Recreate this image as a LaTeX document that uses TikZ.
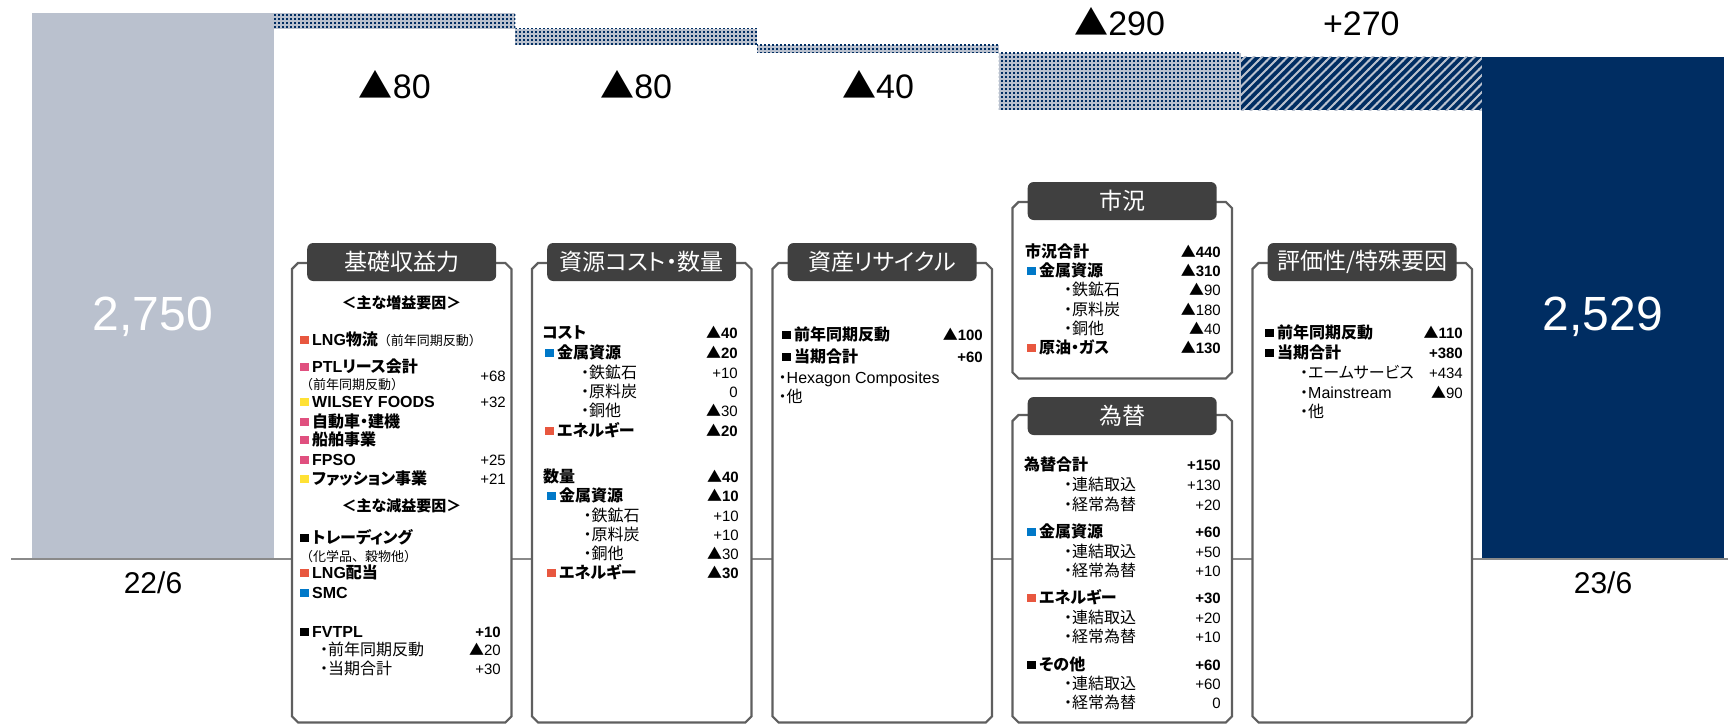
\documentclass[tikz,border=0pt]{standalone}
\usepackage{fontspec}
\setmainfont{Noto Sans CJK JP}[RawFeature=+palt]
\newfontfamily\jpfw{Noto Sans CJK JP}
\newfontfamily\lat{Liberation Sans}
\usepackage{tikz}
\usetikzlibrary{patterns}
\usepackage{xcolor}

\definecolor{navy}{HTML}{002D62}
\definecolor{barg}{HTML}{BAC1CE}
\definecolor{tabg}{HTML}{404040}
\definecolor{frameg}{HTML}{5F5F5F}
\definecolor{axisg}{HTML}{8A8A8A}
\definecolor{mred}{HTML}{E8573F}
\definecolor{mpink}{HTML}{E0507F}
\definecolor{myel}{HTML}{FFE135}
\definecolor{mblue}{HTML}{0078C8}

\pgfdeclarepatternformonly{navydots}{\pgfqpoint{0pt}{0pt}}{\pgfqpoint{4.3pt}{4.3pt}}{\pgfqpoint{4.3pt}{4.3pt}}{%
  \pgfpathrectangle{\pgfqpoint{0pt}{0pt}}{\pgfqpoint{2.2pt}{2.2pt}}\pgfusepath{fill}}
\pgfdeclarepatternformonly{graystripes}{\pgfqpoint{-1pt}{-1pt}}{\pgfqpoint{9.5pt}{9.5pt}}{\pgfqpoint{8.5pt}{8.5pt}}{%
  \pgfsetlinewidth{1.9pt}\pgfpathmoveto{\pgfqpoint{-0.5pt}{-0.5pt}}\pgfpathlineto{\pgfqpoint{9pt}{9pt}}\pgfusepath{stroke}}

% coloured marker in front of an item
\newcommand\sq[1]{\textcolor{#1}{\rule[1.5pt]{8.5pt}{8.5pt}}\hspace{3.5pt}}
% triangle for negative figures
\newcommand\tri{{\rmfamily ▲}}
% small note in brackets
\newcommand\note[1]{{\jpfw\mdseries\fontsize{13}{15}\selectfont #1}}
% outline of a panel with cut corners
\newcommand\chamfer[1]{\draw[boxframe] ([xshift=6pt]#1.north west) -- ([xshift=-6pt]#1.north east) -- ([yshift=-6pt]#1.north east) -- ([yshift=6pt]#1.south east) -- ([xshift=-6pt]#1.south east) -- ([xshift=6pt]#1.south west) -- ([yshift=6pt]#1.south west) -- ([yshift=-6pt]#1.north west) -- cycle;}

\begin{document}
\begin{tikzpicture}[x=1pt,y=-1pt]
    \tikzstyle{bignum}=[font=\lat\fontsize{48}{52}\selectfont,text=white,anchor=base]
    \tikzstyle{delta}=[font=\lat\fontsize{34}{40}\selectfont,anchor=base]
    \tikzstyle{period}=[font=\lat\fontsize{30}{36}\selectfont,anchor=base]
    \tikzstyle{panel}=[fill=white,minimum width=219pt,anchor=north west,inner sep=0pt]
    \tikzstyle{titletab}=[fill=tabg,rounded corners=6pt,minimum width=189pt,minimum height=38pt,inner sep=0pt,text=white,font=\fontsize{23}{26}\selectfont]
    \tikzstyle{lbl}=[anchor=base west,inner sep=0pt,font=\fontsize{16}{18}\selectfont]
    \tikzstyle{val}=[anchor=base east,inner sep=0pt,font=\lat\fontsize{15}{18}\selectfont]
    \tikzstyle{boxframe}=[draw=frameg,line width=2.2pt]
    \tikzstyle{dotbar}=[fill=barg,postaction={pattern=navydots,pattern color=navy}]

    \useasboundingbox (0,0) rectangle (1734,724);

    % bars
    \fill[barg] (32,13) rectangle (273.7,558);
    \path[dotbar] (273.7,13) rectangle (515.4,28.9);
    \path[dotbar] (515.4,28.9) rectangle (757.1,44.7);
    \path[dotbar] (757.1,44.7) rectangle (998.8,52.6);
    \path[dotbar] (998.8,52.6) rectangle (1240.5,110.1);
    \path[fill=navy,postaction={pattern=graystripes,pattern color=barg}] (1240.5,56.7) rectangle (1482.2,110.1);
    \fill[navy] (1482.2,56.8) rectangle (1723.9,558);

    \node[bignum] (v0) at (153,330) {2,750};
    \node[bignum] (v1) at (1603,330) {2,529};
    \node[delta] (d1) at (394.8,98.5) {\tri80};
    \node[delta] (d2) at (636.2,98.5) {\tri80};
    \node[delta] (d3) at (878,98.5) {\tri40};
    \node[delta] (d4) at (1119.6,35) {\tri290};
    \node[delta] (d5) at (1361.3,35) {+270};

    \draw[axisg,line width=2.3pt] (11,559) -- (1728,559);
    \node[period] (p0) at (153,593.5) {22/6};
    \node[period] (p1) at (1603,593.5) {23/6};

    % panels
    \node[panel,minimum height=459pt] (b1) at (292,263) {};
    \node[panel,minimum height=459pt] (b2) at (532,263) {};
    \node[panel,minimum height=459pt] (b3) at (772.5,263) {};
    \node[panel,minimum height=176pt] (b4) at (1012.5,202) {};
    \node[panel,minimum height=307pt] (b5) at (1012.5,415) {};
    \node[panel,minimum height=459pt] (b6) at (1252.5,263) {};
    \foreach \b in {b1,b2,b3,b4,b5,b6} \chamfer{\b};

    \node[titletab] (t1) at ([yshift=1pt]b1.north) {基礎収益力};
    \node[titletab] (t2) at ([yshift=1pt]b2.north) {資源コスト・数量};
    \node[titletab] (t3) at ([yshift=1pt]b3.north) {資産リサイクル};
    \node[titletab] (t4) at ([yshift=1pt]b4.north) {市況};
    \node[titletab] (t5) at ([yshift=-1pt]b5.north) {為替};
    \node[titletab] (t6) at ([yshift=1pt]b6.north) {評価性/特殊要因};

    % 基礎収益力
    \node[lbl,anchor=base,font=\bfseries\fontsize{15}{18}\selectfont] (h1) at (401.5,308.5) {{\jpfw ＜}主な増益要因{\jpfw ＞}};
    \node[lbl,anchor=base,font=\bfseries\fontsize{15}{18}\selectfont] (h2) at (401.5,511.5) {{\jpfw ＜}主な減益要因{\jpfw ＞}};
    \foreach \x/\y/\t [count=\i] in {
        300/345.5/{\sq{mred}\textbf{{\lat LNG}物流}\note{（前年同期反動）}},
        300/372.5/{\sq{mpink}\textbf{{\lat PTL}リース会計}},
        300/389.5/{\note{（前年同期反動）}},
        300/407.5/{\sq{myel}\textbf{\lat WILSEY FOODS}},
        300/427.5/{\sq{mpink}\textbf{自動車・建機}},
        300/445.5/{\sq{mpink}\textbf{船舶事業}},
        300/465.5/{\sq{mpink}\textbf{\lat FPSO}},
        300/484.5/{\sq{myel}\textbf{ファッション事業}},
        300/543.5/{\sq{black}\textbf{トレーディング}},
        300/561.5/{\note{（化学品、穀物他）}},
        300/578.5/{\sq{mred}\textbf{{\lat LNG}配当}},
        300/598.5/{\sq{mblue}\textbf{\lat SMC}},
        300/637.5/{\sq{black}\textbf{\lat FVTPL}},
        320/655.5/{・前年同期反動},
        320/674.5/{・当期合計}}
      \node[lbl] (b1l\i) at (\x,\y) {\t};
    \foreach \x/\y/\v [count=\i] in {506/381.5/+68, 506/407.5/+32, 506/465.5/+25, 506/484.5/+21,
        501/637.5/\textbf{+10}, 501/655.5/\tri20, 501/674.5/+30}
      \node[val] (b1v\i) at (\x,\y) {\v};

    % 資源コスト・数量
    \foreach \x/\y/\t [count=\i] in {
        542/338.5/{\textbf{コスト}},
        545/358.5/{\sq{mblue}\textbf{金属資源}},
        581/378.5/{・鉄鉱石},
        581/397.5/{・原料炭},
        581/416.5/{・銅他},
        545/436.5/{\sq{mred}\textbf{エネルギー}},
        543/482.5/{\textbf{数量}},
        547/501.5/{\sq{mblue}\textbf{金属資源}},
        583.5/521.5/{・鉄鉱石},
        583.5/540.5/{・原料炭},
        583.5/559.5/{・銅他},
        547/578.5/{\sq{mred}\textbf{エネルギー}}}
      \node[lbl] (b2l\i) at (\x,\y) {\t};
    \foreach \x/\y/\v [count=\i] in {738/338.5/\textbf{\tri40}, 738/358.5/\textbf{\tri20}, 738/378.5/+10,
        738/397.5/0, 738/416.5/\tri30, 738/436.5/\textbf{\tri20}, 739/482.5/\textbf{\tri40}, 739/501.5/\textbf{\tri10},
        739/521.5/+10, 739/540.5/+10, 739/559.5/\tri30, 739/578.5/\textbf{\tri30}}
      \node[val] (b2v\i) at (\x,\y) {\v};

    % 資産リサイクル
    \foreach \x/\y/\t [count=\i] in {
        782/340.5/{\sq{black}\textbf{前年同期反動}},
        782/362.5/{\sq{black}\textbf{当期合計}},
        778.5/383.5/{・{\lat Hexagon Composites}},
        778.5/402.5/{・他}}
      \node[lbl] (b3l\i) at (\x,\y) {\t};
    \node[val] (b3v1) at (983,340.5) {\textbf{\tri100}};
    \node[val] (b3v2) at (983,362.5) {\textbf{+60}};

    % 市況
    \foreach \x/\y/\t [count=\i] in {
        1025/257.5/{\textbf{市況合計}},
        1027/276.5/{\sq{mblue}\textbf{金属資源}},
        1064/295.5/{・鉄鉱石},
        1064/315.5/{・原料炭},
        1064/334.5/{・銅他},
        1027/353.5/{\sq{mred}\textbf{原油・ガス}}}
      \node[lbl] (b4l\i) at (\x,\y) {\t};
    \foreach \y/\v [count=\i] in {257.5/\textbf{\tri440}, 276.5/\textbf{\tri310}, 295.5/\tri90, 315.5/\tri180,
        334.5/\tri40, 353.5/\textbf{\tri130}}
      \node[val] (b4v\i) at (1221,\y) {\v};

    % 為替
    \foreach \x/\y/\t [count=\i] in {
        1024/470.5/{\textbf{為替合計}},
        1064/490.5/{・連結取込},
        1064/510.5/{・経常為替},
        1027/537.5/{\sq{mblue}\textbf{金属資源}},
        1064/557.5/{・連結取込},
        1064/576.5/{・経常為替},
        1027/603.5/{\sq{mred}\textbf{エネルギー}},
        1064/623.5/{・連結取込},
        1064/642.5/{・経常為替},
        1027/670.5/{\sq{black}\textbf{その他}},
        1064/689.5/{・連結取込},
        1064/708.5/{・経常為替}}
      \node[lbl] (b5l\i) at (\x,\y) {\t};
    \foreach \y/\v [count=\i] in {470.5/\textbf{+150}, 490.5/+130, 510.5/+20, 537.5/\textbf{+60},
        557.5/+50, 576.5/+10, 603.5/\textbf{+30}, 623.5/+20, 642.5/+10, 670.5/\textbf{+60},
        689.5/+60, 708.5/0}
      \node[val] (b5v\i) at (1221,\y) {\v};

    % 評価性/特殊要因
    \foreach \x/\y/\t [count=\i] in {
        1265/338.5/{\sq{black}\textbf{前年同期反動}},
        1265/358.5/{\sq{black}\textbf{当期合計}},
        1300/378.5/{・エームサービス},
        1300/398.5/{・{\lat Mainstream}},
        1300/417.5/{・他}}
      \node[lbl] (b6l\i) at (\x,\y) {\t};
    \foreach \y/\v [count=\i] in {338.5/\textbf{\tri110}, 358.5/\textbf{+380}, 378.5/+434, 398.5/\tri90}
      \node[val] (b6v\i) at (1463,\y) {\v};
\end{tikzpicture}
\end{document}
